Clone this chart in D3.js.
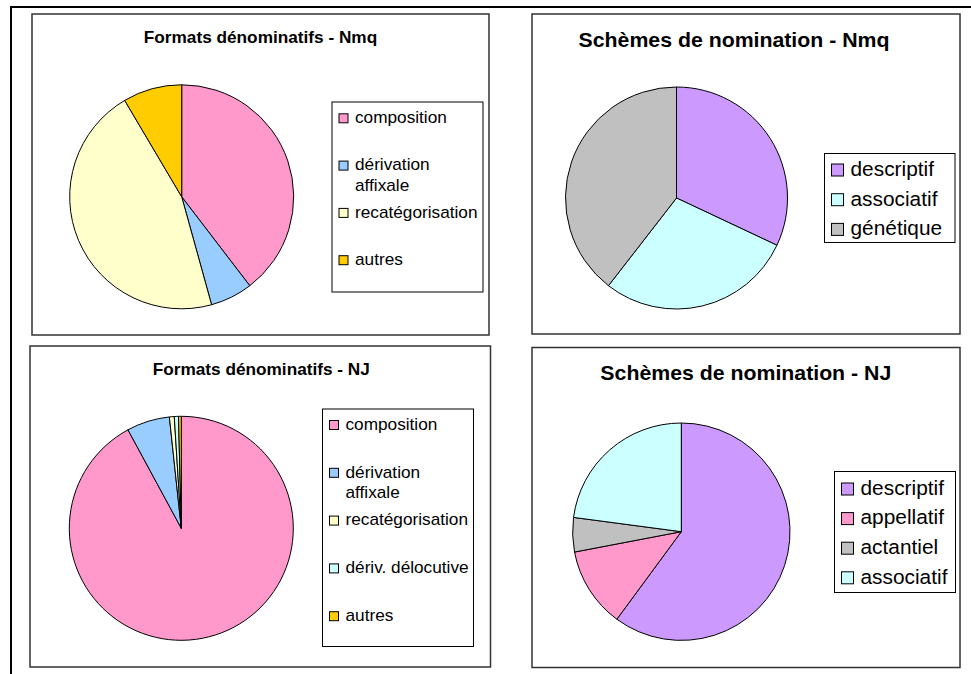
<!DOCTYPE html>
<html>
<head>
<meta charset="utf-8">
<script src="https://cdn.jsdelivr.net/npm/d3@7"></script>
<style>
  body { margin: 0; background: #fff; }
  svg text { font-family: "Liberation Sans", Arial, sans-serif; fill: #000; }
</style>
</head>
<body>
<div class="container"></div>
<script>
// values (percent)
const fmtLabelsNmq = ["composition", "dérivation affixale", "recatégorisation", "autres"];
const fmtValuesNmq = [39.6, 6.1, 45.8, 8.5];

const schLabelsNmq = ["descriptif", "associatif", "génétique"];
const schValuesNmq = [32.0, 28.5, 39.5];

const fmtLabelsNJ = ["composition", "dérivation affixale", "recatégorisation", "dériv. délocutive", "autres"];
const fmtValuesNJ = [92.1, 6.2, 0.7, 0.6, 0.4];

const schLabelsNJ = ["descriptif", "appellatif", "actantiel", "associatif"];
const schValuesNJ = [60.1, 11.9, 5.1, 22.9];

const colors = {
    "composition": "#ff99cc",
    "dérivation affixale": "#99ccff",
    "recatégorisation": "#ffffcc",
    "dériv. délocutive": "#ccffff",
    "autres": "#ffcc00",
    "descriptif": "#cc99ff",
    "associatif": "#ccffff",
    "génétique": "#c0c0c0",
    "appellatif": "#ff99cc",
    "actantiel": "#c0c0c0"
};

const w = 971;
const h = 674;
const sx = 1.07; // the text in the picture is a bit wider than Liberation Sans

const svg = d3.select(".container")
    .append("svg")
    .attr("width", w)
    .attr("height", h);

// outer frame (top and left only)
svg.append("line").attr("x1", 10).attr("y1", 7).attr("x2", w).attr("y2", 7)
    .attr("stroke", "#000").attr("stroke-width", 2);
svg.append("line").attr("x1", 11).attr("y1", 6).attr("x2", 11).attr("y2", h)
    .attr("stroke", "#000").attr("stroke-width", 2);

const panels = [
    {
        title: "Formats dénominatifs - Nmq", labels: fmtLabelsNmq, values: fmtValuesNmq,
        box: [32, 14, 457, 321], titleX: 260.5, titleY: 43.3, titleSize: 16.1,
        cx: 181.7, cy: 196.8, r: 112,
        legend: [332, 102, 151, 190], rowY: 118.3, step: 47.3, sw: 9, textSize: 16.1, wrap: true
    },
    {
        title: "Schèmes de nomination - Nmq", labels: schLabelsNmq, values: schValuesNmq,
        box: [532, 14, 428, 320], titleX: 734, titleY: 46.7, titleSize: 19.9,
        cx: 676.5, cy: 198, r: 111,
        legend: [824.5, 153.5, 130.5, 89], rowY: 170, step: 29.7, sw: 12, textSize: 19.5, wrap: false
    },
    {
        title: "Formats dénominatifs - NJ", labels: fmtLabelsNJ, values: fmtValuesNJ,
        box: [30, 346, 460.5, 321], titleX: 261.3, titleY: 375, titleSize: 16.1,
        cx: 181.3, cy: 528.3, r: 112,
        legend: [322.5, 409, 151, 237.5], rowY: 425, step: 47.8, sw: 9, textSize: 16.1, wrap: true
    },
    {
        title: "Schèmes de nomination - NJ", labels: schLabelsNJ, values: schValuesNJ,
        box: [532, 347.5, 428, 320], titleX: 745.8, titleY: 380, titleSize: 19.9,
        cx: 681.3, cy: 531.7, r: 108.7,
        legend: [834.5, 471.5, 121, 121], rowY: 489, step: 29.6, sw: 12, textSize: 19.5, wrap: false
    }
];

const drawPanel = (p) => {
    const g = svg.append("g");

    g.append("rect")
        .attr("x", p.box[0]).attr("y", p.box[1])
        .attr("width", p.box[2]).attr("height", p.box[3])
        .attr("fill", "#fff")
        .attr("stroke", "#333")
        .attr("stroke-width", 1.5);

    g.append("text")
        .attr("transform", "translate(" + p.titleX + "," + p.titleY + ") scale(" + sx + ",1)")
        .attr("text-anchor", "middle")
        .style("font-weight", "bold")
        .style("font-size", p.titleSize + "px")
        .text(p.title);

    const data = p.labels.map((l, i) => ({ label: l, value: p.values[i] }));

    const pie = d3.pie().sort(null).value(d => d.value);
    const arc = d3.arc().innerRadius(0).outerRadius(p.r);

    g.append("g")
        .attr("transform", "translate(" + p.cx + "," + p.cy + ")")
        .selectAll("path")
        .data(pie(data))
        .enter()
        .append("path")
        .attr("d", arc)
        .attr("fill", d => colors[d.data.label])
        .attr("stroke", "#000")
        .attr("stroke-width", 1)
        .attr("stroke-linejoin", "round");

    // legend
    const lx = p.legend[0], ly = p.legend[1];
    g.append("rect")
        .attr("x", lx).attr("y", ly)
        .attr("width", p.legend[2]).attr("height", p.legend[3])
        .attr("fill", "#fff")
        .attr("stroke", "#000")
        .attr("stroke-width", 1);

    const swX = lx + 7;
    const txX = swX + p.sw + 7;
    const maxW = lx + p.legend[2] - txX - 2;

    data.forEach((d, i) => {
        const y = p.rowY + i * p.step;
        g.append("rect")
            .attr("x", swX).attr("y", y - p.sw / 2)
            .attr("width", p.sw).attr("height", p.sw)
            .attr("fill", colors[d.label])
            .attr("stroke", "#000")
            .attr("stroke-width", 1);

        const t = g.append("text")
            .attr("transform", "translate(" + txX + "," + y + ") scale(" + sx + ",1)")
            .style("font-size", p.textSize + "px");

        // wrap long labels like Excel does
        const words = d.label.split(" ");
        let lines = [d.label];
        if (p.wrap) {
            const probe = t.append("tspan").text(d.label);
            if (probe.node().getComputedTextLength() * sx > maxW) {
                lines = words;
            }
            probe.remove();
        }
        lines.forEach((ln, j) => {
            t.append("tspan")
                .attr("x", 0)
                .attr("y", j * 20.7)
                .attr("dy", "0.3em")
                .text(ln);
        });
    });
};

panels.forEach(drawPanel);
</script>
</body>
</html>
